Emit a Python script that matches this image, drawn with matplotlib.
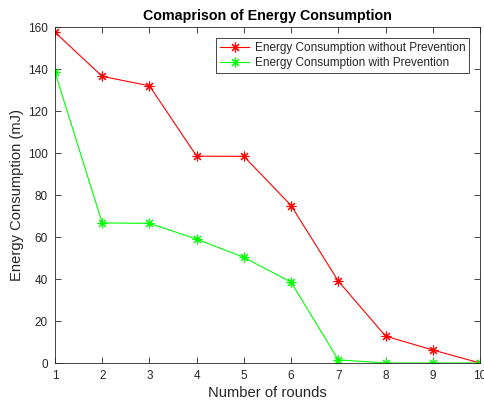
import matplotlib
matplotlib.use("Agg")
import matplotlib.pyplot as plt

rounds = [1, 2, 3, 4, 5, 6, 7, 8, 9, 10]
without_prev = [157.5, 136.5, 132.0, 98.5, 98.4, 75.0, 39.0, 12.8, 6.2, 0.0]
with_prev = [138.5, 66.7, 66.5, 59.0, 50.3, 38.5, 1.5, 0.0, 0.0, 0.0]

plt.rcParams["font.family"] = ["Liberation Sans", "DejaVu Sans"]
txt = "#262626"

fig = plt.figure(figsize=(4.84, 4.08), dpi=100)
ax = fig.add_axes([55 / 484, 45 / 408, 425 / 484, 336 / 408])

star = (8, 2, 0)
ax.plot(rounds, without_prev, color="#ff0000", lw=0.8, marker=star, ms=7, mew=0.8,
        label="Energy Consumption without Prevention")
ax.plot(rounds, with_prev, color="#00ff00", lw=0.8, marker=star, ms=7, mew=0.8,
        label="Energy Consumption with Prevention")

ax.set_xlim(1, 10)
ax.set_ylim(0, 160)
ax.set_xticks(rounds)
ax.set_yticks(range(0, 161, 20))
ax.tick_params(direction="in", top=True, right=True, labelsize=8.5, colors=txt,
               length=4, width=0.6, pad=5)
for s in ax.spines.values():
    s.set_linewidth(0.6)
    s.set_color(txt)

ax.set_title("Comaprison of Energy Consumption", fontsize=10.3, fontweight="bold", pad=5)
ax.set_xlabel("Number of rounds", fontsize=10.6, color=txt, labelpad=3)
ax.set_ylabel("Energy Consumption (mJ)", fontsize=10.6, color=txt, labelpad=3)

leg = ax.legend(loc="upper right", fontsize=8.5, fancybox=False, edgecolor=txt,
                borderaxespad=0.9, handlelength=2.4, handletextpad=0.5,
                labelspacing=0.25, borderpad=0.35, framealpha=1)
leg.get_frame().set_linewidth(0.6)
for t in leg.get_texts():
    t.set_color(txt)

fig.savefig("out.png", dpi=100)
